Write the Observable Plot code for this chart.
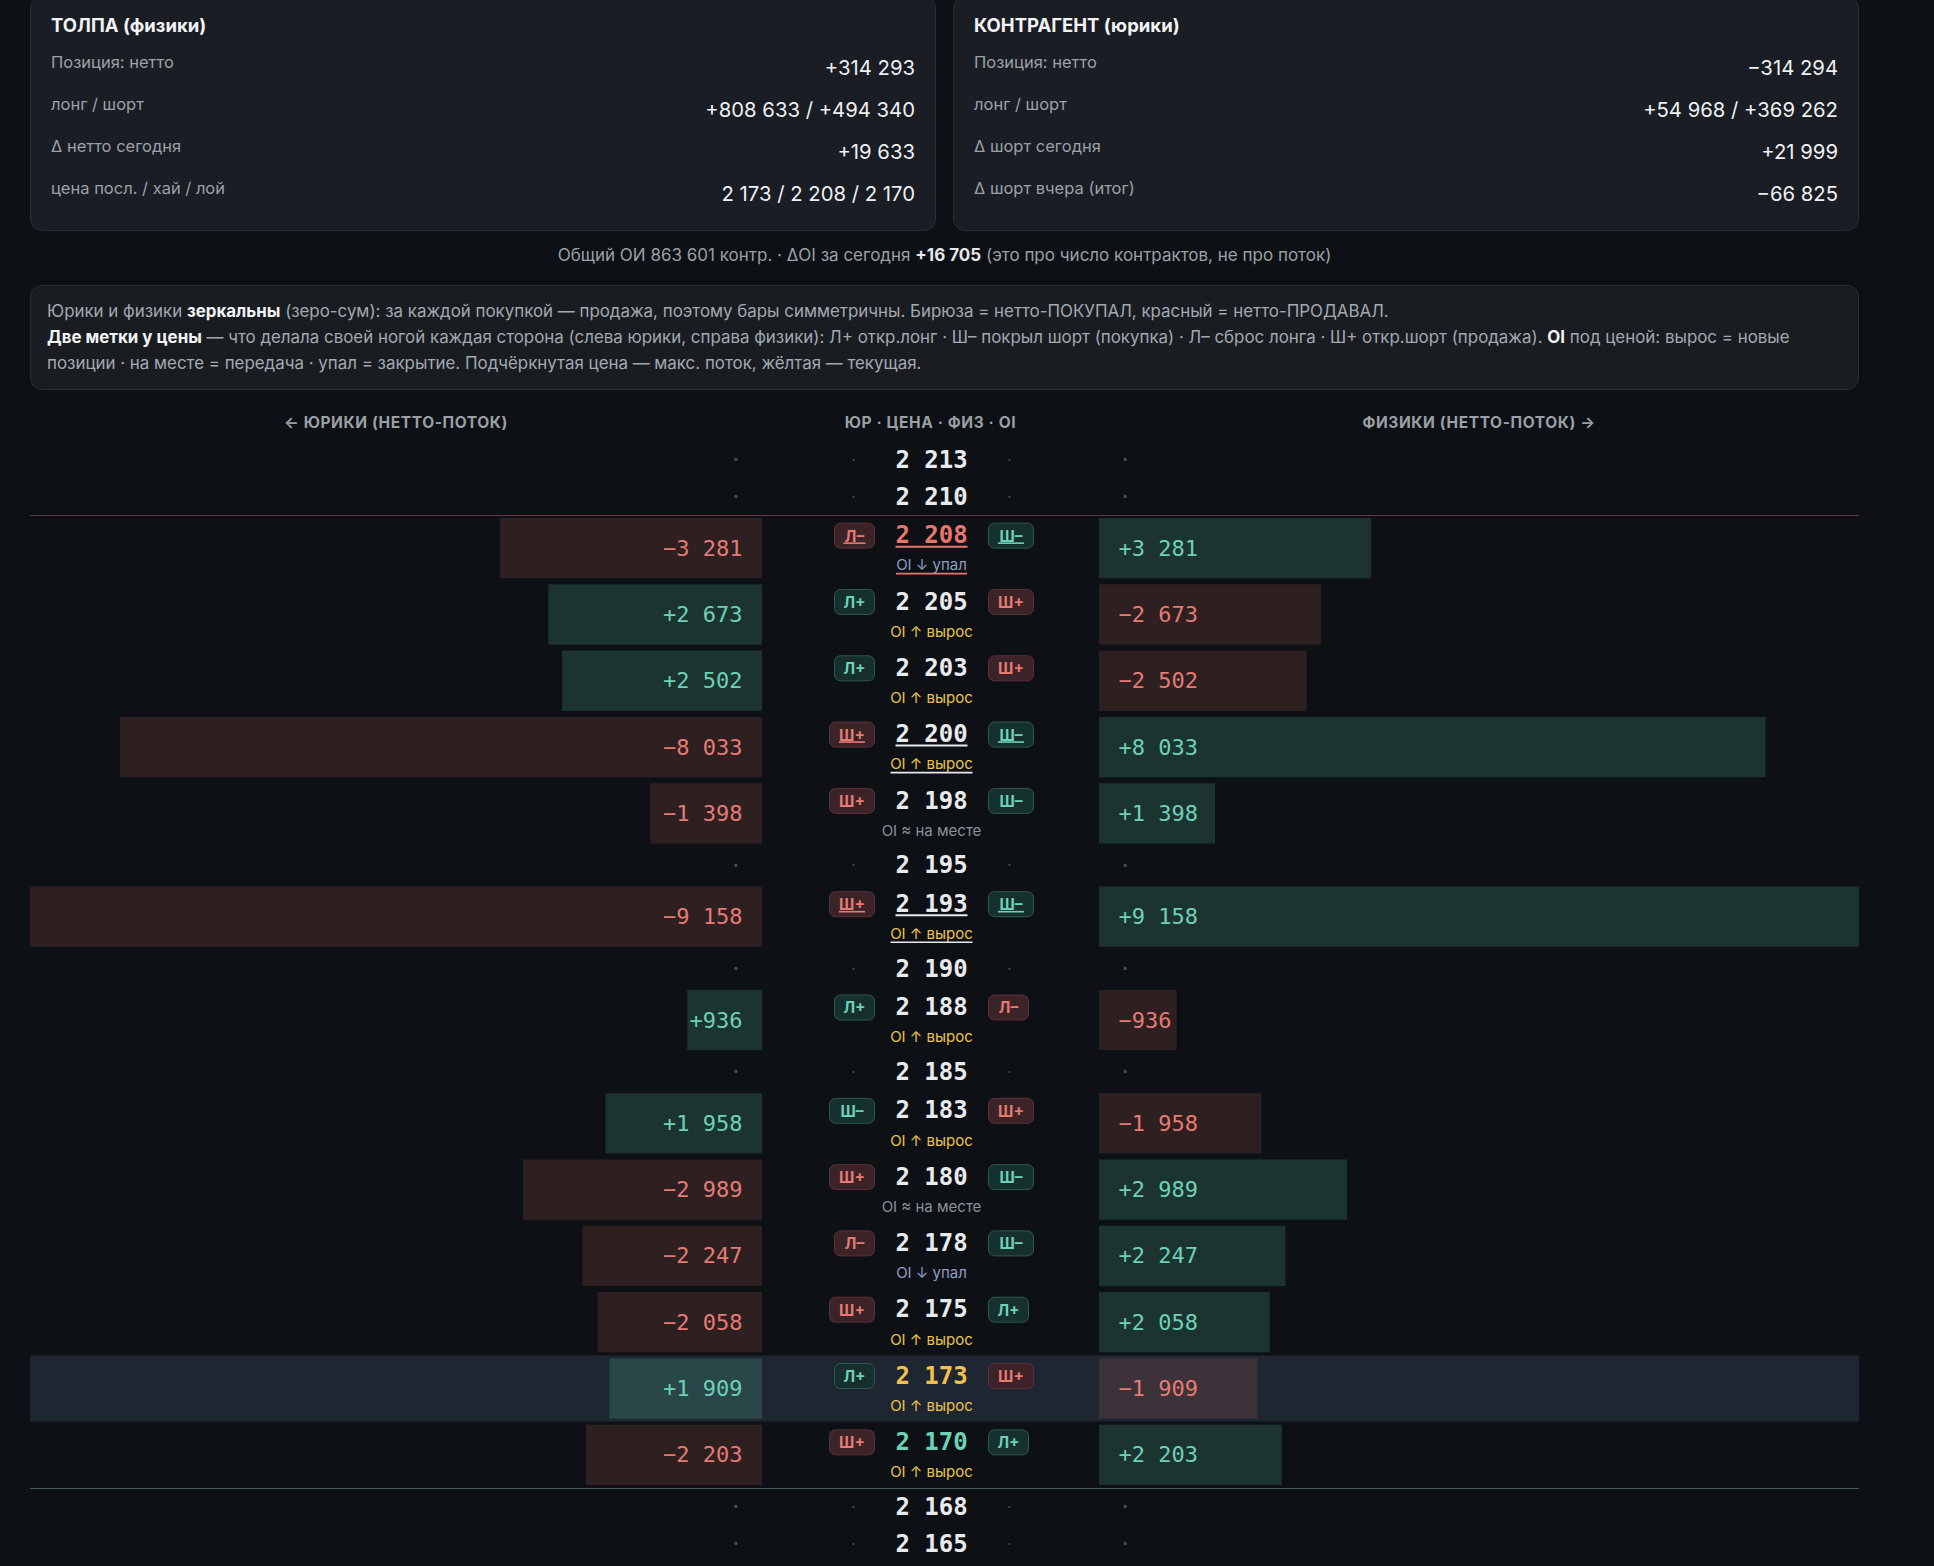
<!DOCTYPE html>
<html><head><meta charset="utf-8">
<script src="https://cdn.jsdelivr.net/npm/d3@7"></script>
<script src="https://cdn.jsdelivr.net/npm/@observablehq/plot@0.6"></script>
<style>
html,body{margin:0;padding:0;background:#0d1014;}
body{width:1934px;height:1566px;position:relative;overflow:hidden;font-family:Inter,"Noto Sans",sans-serif;color:#e6e8eb;}
.abs{position:absolute;}
#cards{left:30px;top:-4px;width:1829px;display:flex;gap:17px;}
.card{flex:1;background:#1a1d23;border:1px solid #2a2e35;border-radius:12px;padding:18px 20px 10px 20px;box-sizing:border-box;height:235px;}
.card h3{margin:0;font-size:18.5px;line-height:20px;font-weight:700;color:#f1f3f5;}
.rows{margin-top:17px;}
.row{display:flex;justify-content:space-between;align-items:flex-start;height:42px;}
.row .l{font-size:16.5px;line-height:20px;color:#9ba1a9;}
.row .v{font-size:20.3px;line-height:28px;padding-top:2px;color:#eef0f3;}
#summary{left:30px;width:1829px;top:245px;text-align:center;font-size:17px;line-height:20px;color:#9aa0a6;}
#summary b{color:#e6e8eb;}
#info{left:30px;top:285px;width:1829px;height:105px;box-sizing:border-box;background:#191c21;border:1px solid #2a2d33;border-radius:12px;padding:12px 16px;font-size:16.9px;line-height:26px;color:#a3a9b0;white-space:nowrap;}
#info b{color:#f1f3f5;}
.hdr{top:413px;font-size:15.5px;line-height:20px;font-weight:700;letter-spacing:.6px;color:#9aa0a6;text-align:center;}
#plots{left:0;top:440.5px;display:flex;}
#plots svg{display:block;}
</style></head><body>
<div id="cards" class="abs"></div>
<div id="summary" class="abs"></div>
<div id="info" class="abs"></div>
<div class="abs hdr" style="left:30px;width:732px">← ЮРИКИ (НЕТТО-ПОТОК)</div>
<div class="abs hdr" style="left:762px;width:337px">ЮР · ЦЕНА · ФИЗ · OI</div>
<div class="abs hdr" style="left:1099px;width:760px">ФИЗИКИ (НЕТТО-ПОТОК) →</div>
<div id="plots" class="abs"></div>
<script>
// ---------- data ----------
const prices   = [2213,2210,2208,2205,2203,2200,2198,2195,2193,2190,2188,2185,2183,2180,2178,2175,2173,2170,2168,2165];
const yurFlow  = [null,null,-3281,2673,2502,-8033,-1398,null,-9158,null,936,null,1958,-2989,-2247,-2058,1909,-2203,null,null];
const fizFlow  = [null,null,3281,-2673,-2502,8033,1398,null,9158,null,-936,null,-1958,2989,2247,2058,-1909,2203,null,null];
const yurTag   = [null,null,"Л–","Л+","Л+","Ш+","Ш+",null,"Ш+",null,"Л+",null,"Ш–","Ш+","Л–","Ш+","Л+","Ш+",null,null];
const fizTag   = [null,null,"Ш–","Ш+","Ш+","Ш–","Ш–",null,"Ш–",null,"Л–",null,"Ш+","Ш–","Ш–","Л+","Ш+","Л+",null,null];
const oiChange = [null,null,"упал","вырос","вырос","вырос","на месте",null,"вырос",null,"вырос",null,"вырос","на месте","упал","вырос","вырос","вырос",null,null];
const lastPrice = 2173, highPrice = 2208, lowPrice = 2170;

const crowdLabels   = ["Позиция: нетто","лонг / шорт","Δ нетто сегодня","цена посл. / хай / лой"];
const crowdNet = 314293, crowdLong = 808633, crowdShort = 494340, crowdDelta = 19633;
const counterLabels = ["Позиция: нетто","лонг / шорт","Δ шорт сегодня","Δ шорт вчера (итог)"];
const counterNet = -314294, counterLong = 54968, counterShort = 369262, counterShortToday = 21999, counterShortYesterday = -66825;
const totalOI = 863601, deltaOI = 16705;

// ---------- formatting ----------
const loc = d3.formatLocale({decimal:",", thousands:"\u00a0", grouping:[3], currency:["",""], minus:"\u2212"});
const fs = loc.format("+,d"), fp = loc.format(",d");

// ---------- cards ----------
const crowdValues = [fs(crowdNet), `${fs(crowdLong)} / ${fs(crowdShort)}`, fs(crowdDelta), `${fp(lastPrice)} / ${fp(highPrice)} / ${fp(lowPrice)}`];
const counterValues = [fs(counterNet), `${fs(counterLong)} / ${fs(counterShort)}`, fs(counterShortToday), fs(counterShortYesterday)];
function card(title, labels, values){
  return `<div class="card"><h3>${title}</h3><div class="rows">${labels.map((l,i)=>`<div class="row"><span class="l">${l}</span><span class="v">${values[i]}</span></div>`).join("")}</div></div>`;
}
document.getElementById("cards").innerHTML = card("ТОЛПА (физики)", crowdLabels, crowdValues) + card("КОНТРАГЕНТ (юрики)", counterLabels, counterValues);
document.getElementById("summary").innerHTML = `Общий ОИ ${fp(totalOI)} контр. · ΔOI за сегодня <b>${fs(deltaOI)}</b> (это про число контрактов, не про поток)`;
document.getElementById("info").innerHTML =
 `Юрики и физики <b>зеркальны</b> (зеро-сум): за каждой покупкой — продажа, поэтому бары симметричны. Бирюза = нетто-ПОКУПАЛ, красный = нетто-ПРОДАВАЛ.<br>`+
 `<b>Две метки у цены</b> — что делала своей ногой каждая сторона (слева юрики, справа физики): Л+ откр.лонг · Ш– покрыл шорт (покупка) · Л– сброс лонга · Ш+ откр.шорт (продажа). <b>OI</b> под ценой: вырос = новые<br>`+
 `позиции · на месте = передача · упал = закрытие. Подчёркнутая цена — макс. поток, жёлтая — текущая.`;

// ---------- rows layout (in row units) ----------
const ROW_PX = 66.3, EMPTY = 37 / ROW_PX, PAD = 3 / ROW_PX;
let acc = 0;
const rows = prices.map((p, i) => {
  const active = yurFlow[i] != null;
  const h = active ? 1 : EMPTY;
  const r = {price:p, top:acc, bottom:acc+h, mid:acc+h/2, active, yur:yurFlow[i], fiz:fizFlow[i], yt:yurTag[i], ft:fizTag[i], oi:oiChange[i]};
  acc += h; return r;
});
const total = acc;
const active = rows.filter(d => d.active), empty = rows.filter(d => !d.active);
const top3 = new Set(active.slice().sort((a,b)=>Math.abs(b.yur)-Math.abs(a.yur)).slice(0,3).map(d=>d.price));
const current = rows.filter(d => d.price === lastPrice);
const highTop = rows.find(d => d.price === highPrice).top;
const lowBottom = rows.find(d => d.price === lowPrice).bottom;
const xMax = d3.max(active, d => Math.abs(d.yur));
const MB = 5, H = Math.round(total * ROW_PX) + MB;

const TEAL = "#6dd1b7", RED = "#e57b72", HL = "#1e2631";
const barFill = v => v > 0 ? "rgba(94,214,180,0.18)" : "rgba(224,112,106,0.16)";
const txtFill = v => v > 0 ? TEAL : RED;
const MONO = "DejaVu Sans Mono", SANS = "Inter";
const common = {height:H, marginTop:0, marginBottom:MB, y:{domain:[0,total], reverse:true, axis:null}, style:{background:"transparent", overflow:"visible", color:"#e6e8eb"}};
const bgMarks = [
  Plot.rect(current, {y1:"top", y2:"bottom", fill:HL}),
  Plot.ruleY([highTop], {stroke:"#6a343b", strokeWidth:1.2}),
  Plot.ruleY([lowBottom], {stroke:"#3f5e52", strokeWidth:1.2})
];

// left: юрики
const left = Plot.plot({...common, width:762, marginLeft:30, marginRight:0,
  x:{domain:[0,xMax], reverse:true, axis:null},
  marks:[...bgMarks,
    Plot.rect(active, {x1:0, x2:d=>Math.abs(d.yur), y1:d=>d.top+PAD, y2:d=>d.bottom-PAD, fill:d=>barFill(d.yur)}),
    Plot.text(active, {x:0, y:"mid", text:d=>fs(d.yur), textAnchor:"end", dx:-20, fill:d=>txtFill(d.yur), fontFamily:MONO, fontSize:22}),
    Plot.text(empty, {x:0, y:"mid", text:()=>"·", textAnchor:"end", dx:-20, fill:"#4a4f57", fontFamily:MONO, fontSize:22})
  ]});

// center: badges, price, OI
function roundRect(w, h, r){
  return {draw(ctx){
    const x0=-w/2, y0=-h/2, x1=w/2, y1=h/2;
    if (!r) { ctx.moveTo(x0,y0); ctx.lineTo(x1,y0); ctx.lineTo(x1,y1); ctx.lineTo(x0,y1); ctx.closePath(); return; }
    ctx.moveTo(x0+r,y0); ctx.lineTo(x1-r,y0); ctx.arcTo(x1,y0,x1,y0+r,r);
    ctx.lineTo(x1,y1-r); ctx.arcTo(x1,y1,x1-r,y1,r);
    ctx.lineTo(x0+r,y1); ctx.arcTo(x0,y1,x0,y1-r,r);
    ctx.lineTo(x0,y0+r); ctx.arcTo(x0,y0,x0+r,y0,r); ctx.closePath();
  }};
}
const isBuy = t => t === "Л+" || t === "Ш–";
const bw = t => t[0] === "Ш" ? 45 : 40;
const PRICE_OFF = 13 / ROW_PX, OI_OFF = 17 / ROW_PX;
const priceY = d => d.active ? d.mid - PRICE_OFF : d.mid;
const oiY = d => d.mid + OI_OFF;
const priceFill = d => d.price === lastPrice ? "#f2c14e" : d.price === highPrice ? "#e8766d" : d.price === lowPrice ? "#6dd3b8" : "#e8eaed";
const oiFill = d => d.oi === "вырос" ? "#e9c34b" : d.oi === "упал" ? "#8f9cc6" : "#8b9199";
const oiText = d => d.oi === "вырос" ? "OI ↑ вырос" : d.oi === "упал" ? "OI ↓ упал" : "OI ≈ на месте";
const strong = active.filter(d => top3.has(d.price));

function badgeMarks(side, key){
  const sign = side === "юр" ? -1 : 1;
  const out = [];
  for (const w of [40,45]) {
    const sub = active.filter(d => bw(d[key]) === w);
    const col = d => isBuy(d[key]) ? TEAL : RED;
    out.push(Plot.dot(sub, {x:()=>side, y:priceY, symbol:roundRect(w,25,6), r:10, dx:sign*w/2,
      fill:d=>isBuy(d[key]) ? "#16302d" : "#3b2327", stroke:d=>isBuy(d[key]) ? "#2c5a50" : "#5c3137", strokeWidth:1}));
    out.push(Plot.text(sub, {x:()=>side, y:priceY, text:d=>d[key], dx:sign*w/2, dy:1,
      fill:col, fontFamily:SANS, fontWeight:700, fontSize:15.5}));
    // underline of the badge label on the max-flow rows
    out.push(Plot.dot(sub.filter(d => top3.has(d.price)), {x:()=>side, y:priceY, symbol:roundRect(w === 45 ? 26 : 22, 1.6, 0), r:10,
      dx:sign*w/2, dy:7.5, fill:col, stroke:null}));
  }
  return out;
}
// underlines of the OI labels on the max-flow rows (width follows label length)
const oiUnderlines = [["вырос",82],["упал",71],["на месте",96]].map(([k,w]) =>
  Plot.dot(strong.filter(d => d.oi === k), {x:()=>"цена", y:oiY, symbol:roundRect(w, 1.6, 0), r:10, dy:8, fill:priceFill, stroke:null}));

const center = Plot.plot({...common, width:337, marginLeft:0, marginRight:0,
  x:{type:"point", domain:["юр","цена","физ"], range:[111,226], padding:0, axis:null},
  marks:[...bgMarks,
    ...badgeMarks("юр","yt"), ...badgeMarks("физ","ft"),
    Plot.text(rows, {x:()=>"цена", y:priceY, text:d=>fp(d.price), fill:priceFill, fontFamily:MONO, fontWeight:700, fontSize:24}),
    Plot.text(active, {x:()=>"цена", y:oiY, text:oiText, fill:oiFill, fontFamily:SANS, fontSize:15}),
    Plot.dot(strong, {x:()=>"цена", y:priceY, symbol:roundRect(72, 2, 0), r:10, dy:11, fill:priceFill, stroke:null}),
    ...oiUnderlines,
    Plot.text(empty, {x:()=>"юр", y:"mid", text:()=>"·", dx:-21, fill:"#4a4f57", fontFamily:SANS, fontSize:15}),
    Plot.text(empty, {x:()=>"физ", y:"mid", text:()=>"·", dx:21, fill:"#4a4f57", fontFamily:SANS, fontSize:15})
  ]});

// right: физики
const right = Plot.plot({...common, width:835, marginLeft:0, marginRight:75,
  x:{domain:[0,xMax], axis:null},
  marks:[...bgMarks,
    Plot.rect(active, {x1:0, x2:d=>Math.abs(d.fiz), y1:d=>d.top+PAD, y2:d=>d.bottom-PAD, fill:d=>barFill(d.fiz)}),
    Plot.text(active, {x:0, y:"mid", text:d=>fs(d.fiz), textAnchor:"start", dx:19, fill:d=>txtFill(d.fiz), fontFamily:MONO, fontSize:22}),
    Plot.text(empty, {x:0, y:"mid", text:()=>"·", textAnchor:"start", dx:19, fill:"#4a4f57", fontFamily:MONO, fontSize:22})
  ]});

document.getElementById("plots").append(left, center, right);
</script>
</body></html>
